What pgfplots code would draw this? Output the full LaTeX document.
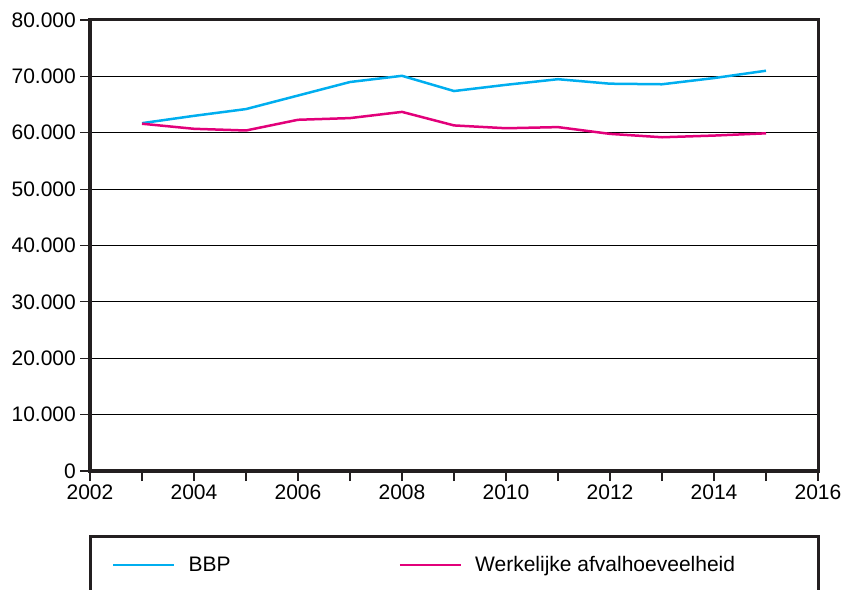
\documentclass[border=0pt]{standalone}
\usepackage{fontspec}
\setmainfont{Liberation Sans}
\usepackage{pgfplots}
\pgfplotsset{compat=1.18}
\definecolor{bbp}{HTML}{00AEEF}
\definecolor{afval}{HTML}{E2007A}
\definecolor{frame}{HTML}{231F20}

% jaar, BBP (index), werkelijke afvalhoeveelheid
\pgfplotstableread{
jaar bbp afval
2003 61700 61600
2004 63000 60700
2005 64200 60400
2006 66600 62300
2007 69000 62600
2008 70100 63700
2009 67400 61300
2010 68500 60800
2011 69500 61000
2012 68700 59800
2013 68600 59200
2014 69700 59500
2015 71000 59900
}\datatable

\begin{document}
\begin{tikzpicture}[font=\fontsize{21bp}{25bp}\selectfont]
\path[use as bounding box] (0,0) rectangle (845bp,590bp);
\begin{axis}[
  at={(90bp,119bp)}, anchor=south west,
  scale only axis, width=728bp, height=451bp,
  xmin=2002, xmax=2016, ymin=0, ymax=80000,
  xtick={2002,2004,...,2016},
  minor xtick={2003,2005,...,2015},
  ytick={0,10000,...,80000},
  scaled y ticks=false,
  tick align=outside, tick pos=left,
  major tick length=10bp, minor tick length=10bp,
  ymajorgrids,
  grid style={line width=1.2bp, black},
  axis line style={line width=3bp, frame},
  tick style={line width=1.2bp, frame},
  /pgf/number format/assume math mode=true,
  x tick label style={/pgf/number format/1000 sep={}},
  y tick label style={/pgf/number format/1000 sep={.}, inner xsep=4bp},
  legend columns=2,
  legend style={draw=none, fill=none, inner sep=0pt,
    at={(axis description cs:0.0302,-0.2084)}, anchor=west,
    /tikz/every odd column/.append style={column sep=11bp},
    /tikz/every even column/.append style={column sep=166bp}},
  legend image code/.code={\draw[#1] (0bp,0bp) -- (61bp,0bp);},
]
\addplot[bbp, line width=2.5bp] table[x=jaar, y=bbp] {\datatable};
\addlegendentry{BBP}
\addplot[afval, line width=2.5bp] table[x=jaar, y=afval] {\datatable};
\addlegendentry{Werkelijke afvalhoeveelheid}
\end{axis}
\draw[line width=3bp, frame] (90bp,0bp) -- (90bp,53bp) -- (818bp,53bp) -- (818bp,0bp);
\end{tikzpicture}
\end{document}
